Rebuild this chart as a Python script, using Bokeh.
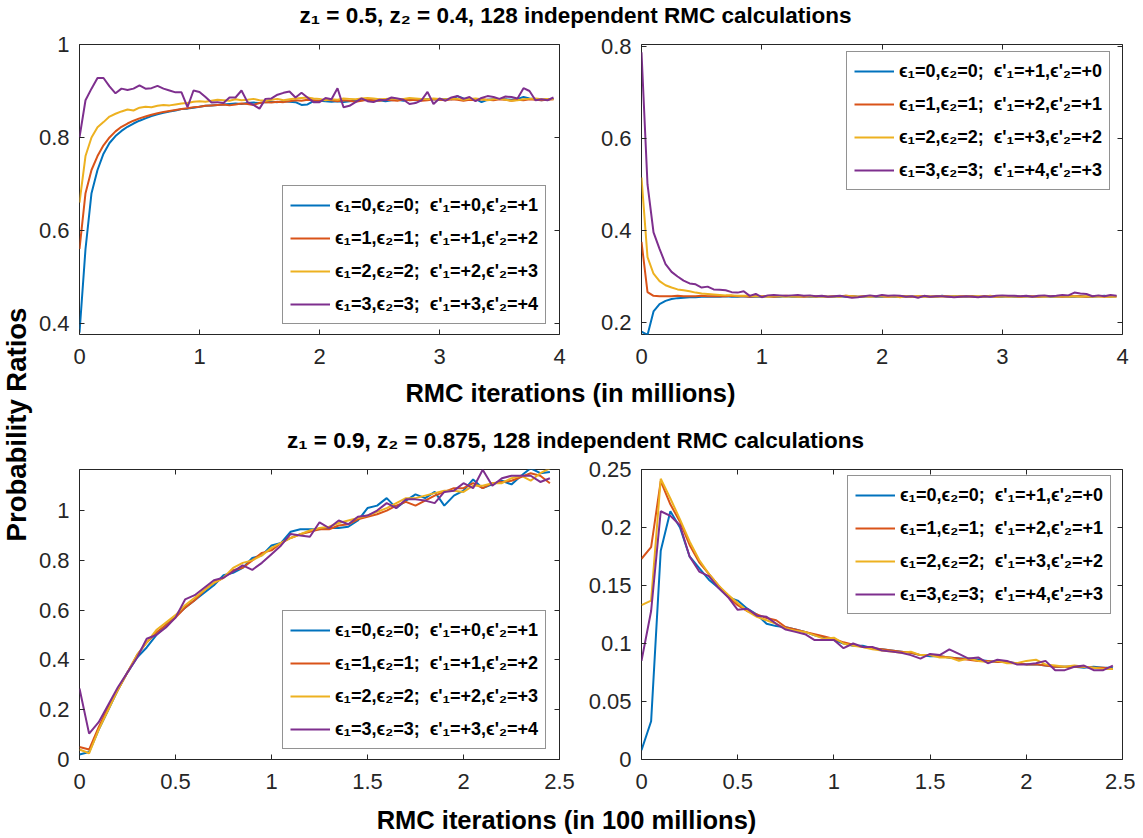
import math
from bokeh.plotting import figure
from bokeh.models import (Range1d, FixedTicker, LinearAxis, Legend, LegendItem, Label,
                          CustomJSTickFormatter)
from bokeh.layouts import row, column
from bokeh.embed import file_html
from bokeh.resources import INLINE

# ---------------- data ----------------
x_top = [0.00, 0.05, 0.10, 0.15, 0.20, 0.25, 0.30, 0.35, 0.40, 0.45,
         0.50, 0.55, 0.60, 0.65, 0.70, 0.75, 0.80, 0.85, 0.90, 0.95,
         1.00, 1.05, 1.10, 1.15, 1.20, 1.25, 1.30, 1.35, 1.40, 1.45,
         1.50, 1.55, 1.60, 1.65, 1.70, 1.75, 1.80, 1.85, 1.90, 1.95,
         2.00, 2.05, 2.10, 2.15, 2.20, 2.25, 2.30, 2.35, 2.40, 2.45,
         2.50, 2.55, 2.60, 2.65, 2.70, 2.75, 2.80, 2.85, 2.90, 2.95,
         3.00, 3.05, 3.10, 3.15, 3.20, 3.25, 3.30, 3.35, 3.40, 3.45,
         3.50, 3.55, 3.60, 3.65, 3.70, 3.75, 3.80, 3.85, 3.90, 3.95]

x_bot = [0.00, 0.05, 0.10, 0.15, 0.20, 0.25, 0.30, 0.35, 0.40, 0.45,
         0.50, 0.55, 0.60, 0.65, 0.70, 0.75, 0.80, 0.85, 0.90, 0.95,
         1.00, 1.05, 1.10, 1.15, 1.20, 1.25, 1.30, 1.35, 1.40, 1.45,
         1.50, 1.55, 1.60, 1.65, 1.70, 1.75, 1.80, 1.85, 1.90, 1.95,
         2.00, 2.05, 2.10, 2.15, 2.20, 2.25, 2.30, 2.35, 2.40, 2.45]

# top-left: z1=0.5, z2=0.4, (e'1, e'2) = (+e, +e+1)
tl_e0 = [0.380, 0.560, 0.680, 0.730, 0.765, 0.788, 0.803, 0.814, 0.823, 0.830,
         0.836, 0.841, 0.846, 0.850, 0.853, 0.856, 0.858, 0.861, 0.862, 0.864,
         0.866, 0.868, 0.869, 0.870, 0.871, 0.872, 0.873, 0.872, 0.874, 0.875,
         0.874, 0.876, 0.877, 0.876, 0.878, 0.877, 0.876, 0.870, 0.871, 0.878,
         0.879, 0.878, 0.877, 0.878, 0.876, 0.878, 0.879, 0.880, 0.882, 0.879,
         0.880, 0.878, 0.880, 0.881, 0.879, 0.882, 0.880, 0.881, 0.883, 0.882,
         0.881, 0.883, 0.882, 0.889, 0.884, 0.881, 0.883, 0.876, 0.881, 0.882,
         0.883, 0.882, 0.881, 0.883, 0.887, 0.884, 0.882, 0.880, 0.882, 0.883]
tl_e1 = [0.560, 0.680, 0.730, 0.760, 0.783, 0.800, 0.813, 0.823, 0.830, 0.836,
         0.841, 0.845, 0.849, 0.852, 0.855, 0.857, 0.859, 0.861, 0.863, 0.865,
         0.866, 0.868, 0.869, 0.870, 0.871, 0.869, 0.871, 0.873, 0.872, 0.870,
         0.874, 0.876, 0.875, 0.877, 0.876, 0.878, 0.880, 0.879, 0.881, 0.880,
         0.879, 0.881, 0.880, 0.878, 0.880, 0.879, 0.877, 0.879, 0.881, 0.880,
         0.879, 0.881, 0.880, 0.879, 0.882, 0.880, 0.881, 0.879, 0.880, 0.882,
         0.881, 0.880, 0.882, 0.881, 0.879, 0.881, 0.880, 0.882, 0.881, 0.880,
         0.882, 0.881, 0.879, 0.881, 0.880, 0.882, 0.881, 0.880, 0.881, 0.882]
tl_e2 = [0.660, 0.760, 0.800, 0.822, 0.833, 0.845, 0.851, 0.856, 0.860, 0.858,
         0.864, 0.866, 0.865, 0.868, 0.870, 0.869, 0.871, 0.873, 0.874, 0.877,
         0.878, 0.877, 0.879, 0.881, 0.880, 0.879, 0.882, 0.880, 0.881, 0.883,
         0.880, 0.879, 0.881, 0.883, 0.880, 0.882, 0.884, 0.885, 0.886, 0.884,
         0.883, 0.880, 0.882, 0.881, 0.884, 0.883, 0.882, 0.884, 0.885, 0.884,
         0.882, 0.883, 0.884, 0.882, 0.883, 0.885, 0.884, 0.883, 0.882, 0.884,
         0.883, 0.882, 0.884, 0.883, 0.881, 0.883, 0.884, 0.882, 0.880, 0.882,
         0.883, 0.881, 0.879, 0.880, 0.882, 0.883, 0.884, 0.882, 0.883, 0.882]
tl_e3 = [0.800, 0.880, 0.905, 0.928, 0.928, 0.910, 0.895, 0.905, 0.902, 0.905,
         0.912, 0.905, 0.906, 0.911, 0.905, 0.901, 0.897, 0.897, 0.865, 0.901,
         0.898, 0.887, 0.875, 0.876, 0.874, 0.886, 0.886, 0.901, 0.876, 0.870,
         0.862, 0.883, 0.884, 0.892, 0.896, 0.899, 0.886, 0.896, 0.886, 0.876,
         0.876, 0.885, 0.882, 0.906, 0.865, 0.868, 0.876, 0.884, 0.878, 0.876,
         0.881, 0.880, 0.886, 0.884, 0.881, 0.872, 0.874, 0.880, 0.898, 0.872,
         0.884, 0.879, 0.886, 0.889, 0.883, 0.887, 0.878, 0.885, 0.889, 0.887,
         0.883, 0.888, 0.887, 0.884, 0.906, 0.900, 0.880, 0.882, 0.880, 0.886]

# top-right: z1=0.5, z2=0.4, (e'1, e'2) = (+e+1, +e)
tr_e0 = [0.180, 0.173, 0.224, 0.240, 0.247, 0.251, 0.253, 0.254, 0.255, 0.255,
         0.256, 0.256, 0.256, 0.256, 0.257, 0.256, 0.256, 0.257, 0.256, 0.256,
         0.256, 0.257, 0.256, 0.256, 0.257, 0.256, 0.256, 0.257, 0.256, 0.256,
         0.257, 0.256, 0.256, 0.257, 0.256, 0.257, 0.256, 0.256, 0.257, 0.256,
         0.256, 0.257, 0.256, 0.256, 0.257, 0.256, 0.256, 0.257, 0.256, 0.256,
         0.258, 0.256, 0.257, 0.256, 0.256, 0.257, 0.256, 0.256, 0.257, 0.256,
         0.256, 0.257, 0.256, 0.256, 0.257, 0.256, 0.256, 0.257, 0.256, 0.256,
         0.257, 0.256, 0.256, 0.257, 0.256, 0.256, 0.257, 0.258, 0.256, 0.257]
tr_e1 = [0.375, 0.266, 0.258, 0.257, 0.257, 0.257, 0.258, 0.257, 0.257, 0.257,
         0.258, 0.257, 0.257, 0.257, 0.257, 0.258, 0.257, 0.257, 0.256, 0.257,
         0.257, 0.257, 0.256, 0.257, 0.258, 0.257, 0.257, 0.256, 0.257, 0.257,
         0.257, 0.256, 0.257, 0.257, 0.258, 0.257, 0.256, 0.257, 0.257, 0.257,
         0.257, 0.256, 0.257, 0.257, 0.257, 0.256, 0.257, 0.257, 0.256, 0.257,
         0.257, 0.257, 0.256, 0.257, 0.257, 0.257, 0.256, 0.257, 0.257, 0.256,
         0.257, 0.257, 0.257, 0.256, 0.257, 0.257, 0.256, 0.257, 0.257, 0.257,
         0.256, 0.257, 0.257, 0.257, 0.256, 0.257, 0.257, 0.256, 0.257, 0.257]
tr_e2 = [0.515, 0.342, 0.306, 0.290, 0.281, 0.276, 0.272, 0.270, 0.268, 0.265,
         0.263, 0.262, 0.261, 0.260, 0.259, 0.259, 0.258, 0.258, 0.258, 0.257,
         0.257, 0.256, 0.257, 0.257, 0.256, 0.257, 0.256, 0.257, 0.257, 0.256,
         0.257, 0.256, 0.257, 0.256, 0.258, 0.257, 0.256, 0.257, 0.256, 0.257,
         0.257, 0.256, 0.257, 0.255, 0.257, 0.256, 0.257, 0.256, 0.257, 0.256,
         0.257, 0.256, 0.257, 0.256, 0.257, 0.256, 0.257, 0.256, 0.258, 0.256,
         0.257, 0.256, 0.257, 0.256, 0.257, 0.256, 0.257, 0.256, 0.257, 0.256,
         0.257, 0.256, 0.257, 0.256, 0.257, 0.256, 0.257, 0.256, 0.256, 0.256]
tr_e3 = [0.787, 0.500, 0.396, 0.360, 0.327, 0.310, 0.300, 0.291, 0.285, 0.283,
         0.276, 0.278, 0.272, 0.271, 0.270, 0.266, 0.265, 0.268, 0.258, 0.262,
         0.255, 0.259, 0.260, 0.259, 0.258, 0.259, 0.260, 0.258, 0.259, 0.257,
         0.258, 0.256, 0.257, 0.258, 0.256, 0.254, 0.255, 0.257, 0.259, 0.257,
         0.260, 0.258, 0.259, 0.258, 0.256, 0.257, 0.254, 0.258, 0.256, 0.257,
         0.257, 0.256, 0.255, 0.256, 0.257, 0.256, 0.255, 0.257, 0.256, 0.258,
         0.259, 0.258, 0.258, 0.257, 0.258, 0.256, 0.258, 0.259, 0.257, 0.258,
         0.260, 0.259, 0.265, 0.263, 0.262, 0.257, 0.259, 0.257, 0.260, 0.258]

# bottom-left: z1=0.9, z2=0.875, (e'1, e'2) = (+e, +e+1)
bl_e0 = [0.020, 0.030, 0.120, 0.200, 0.280, 0.350, 0.410, 0.450, 0.500, 0.540,
         0.575, 0.610, 0.640, 0.670, 0.700, 0.740, 0.750, 0.770, 0.810, 0.820,
         0.860, 0.870, 0.915, 0.925, 0.925, 0.925, 0.930, 0.930, 0.935, 0.960,
         1.010, 1.020, 1.050, 1.010, 1.040, 1.065, 1.050, 1.075, 1.020, 1.060,
         1.080, 1.125, 1.090, 1.105, 1.120, 1.105, 1.140, 1.170, 1.150, 1.155]
bl_e1 = [0.050, 0.040, 0.130, 0.210, 0.280, 0.350, 0.420, 0.470, 0.510, 0.540,
         0.570, 0.610, 0.640, 0.680, 0.710, 0.730, 0.760, 0.770, 0.800, 0.830,
         0.840, 0.870, 0.890, 0.905, 0.915, 0.925, 0.925, 0.940, 0.945, 0.965,
         0.975, 0.985, 1.000, 1.020, 1.035, 1.020, 1.040, 1.060, 1.075, 1.090,
         1.090, 1.110, 1.090, 1.110, 1.115, 1.120, 1.135, 1.150, 1.140, 1.110]
bl_e2 = [0.040, 0.025, 0.120, 0.200, 0.280, 0.350, 0.420, 0.470, 0.520, 0.550,
         0.580, 0.620, 0.650, 0.680, 0.710, 0.730, 0.770, 0.790, 0.800, 0.820,
         0.850, 0.870, 0.890, 0.905, 0.920, 0.930, 0.935, 0.950, 0.960, 0.970,
         0.980, 0.995, 1.010, 1.030, 1.050, 1.050, 1.060, 1.070, 1.080, 1.080,
         1.075, 1.100, 1.100, 1.110, 1.110, 1.130, 1.140, 1.120, 1.150, 1.170]
bl_e3 = [0.285, 0.104, 0.150, 0.220, 0.290, 0.350, 0.410, 0.485, 0.500, 0.530,
         0.570, 0.643, 0.660, 0.690, 0.720, 0.730, 0.755, 0.780, 0.762, 0.790,
         0.825, 0.860, 0.906, 0.900, 0.895, 0.953, 0.930, 0.960, 0.945, 0.975,
         0.980, 1.000, 1.030, 1.010, 1.045, 1.045, 1.040, 1.030, 1.075, 1.080,
         1.110, 1.090, 1.164, 1.100, 1.130, 1.140, 1.140, 1.140, 1.115, 1.130]

# bottom-right: z1=0.9, z2=0.875, (e'1, e'2) = (+e+1, +e)
br_e0 = [0.008, 0.033, 0.180, 0.214, 0.200, 0.175, 0.165, 0.155, 0.148, 0.140,
         0.137, 0.130, 0.125, 0.117, 0.115, 0.114, 0.112, 0.110, 0.107, 0.105,
         0.103, 0.100, 0.098, 0.098, 0.096, 0.095, 0.094, 0.093, 0.092, 0.090,
         0.089, 0.089, 0.088, 0.087, 0.087, 0.086, 0.085, 0.084, 0.084, 0.083,
         0.082, 0.082, 0.081, 0.080, 0.080, 0.080, 0.079, 0.080, 0.079, 0.079]
br_e1 = [0.173, 0.183, 0.240, 0.220, 0.205, 0.185, 0.170, 0.160, 0.150, 0.140,
         0.133, 0.128, 0.125, 0.122, 0.120, 0.114, 0.112, 0.110, 0.108, 0.106,
         0.104, 0.101, 0.099, 0.097, 0.096, 0.095, 0.094, 0.093, 0.092, 0.090,
         0.090, 0.089, 0.088, 0.087, 0.086, 0.085, 0.085, 0.084, 0.084, 0.083,
         0.082, 0.082, 0.081, 0.080, 0.080, 0.080, 0.080, 0.079, 0.079, 0.078]
br_e2 = [0.133, 0.137, 0.242, 0.225, 0.207, 0.188, 0.172, 0.160, 0.150, 0.142,
         0.135, 0.128, 0.123, 0.120, 0.117, 0.113, 0.111, 0.110, 0.107, 0.104,
         0.105, 0.100, 0.098, 0.097, 0.095, 0.094, 0.093, 0.092, 0.093, 0.090,
         0.090, 0.088, 0.088, 0.085, 0.087, 0.085, 0.084, 0.085, 0.083, 0.083,
         0.085, 0.086, 0.082, 0.081, 0.080, 0.081, 0.080, 0.079, 0.078, 0.078]
br_e3 = [0.085, 0.128, 0.214, 0.210, 0.202, 0.175, 0.162, 0.158, 0.148, 0.140,
         0.129, 0.130, 0.124, 0.123, 0.117, 0.112, 0.110, 0.108, 0.103, 0.103,
         0.103, 0.096, 0.100, 0.097, 0.097, 0.094, 0.093, 0.092, 0.090, 0.087,
         0.091, 0.090, 0.095, 0.091, 0.087, 0.088, 0.083, 0.086, 0.085, 0.082,
         0.082, 0.083, 0.085, 0.077, 0.077, 0.080, 0.081, 0.077, 0.077, 0.081]

labels_left = ["ϵ₁=0,ϵ₂=0;  ϵ'₁=+0,ϵ'₂=+1",
               "ϵ₁=1,ϵ₂=1;  ϵ'₁=+1,ϵ'₂=+2",
               "ϵ₁=2,ϵ₂=2;  ϵ'₁=+2,ϵ'₂=+3",
               "ϵ₁=3,ϵ₂=3;  ϵ'₁=+3,ϵ'₂=+4"]
labels_right = ["ϵ₁=0,ϵ₂=0;  ϵ'₁=+1,ϵ'₂=+0",
                "ϵ₁=1,ϵ₂=1;  ϵ'₁=+2,ϵ'₂=+1",
                "ϵ₁=2,ϵ₂=2;  ϵ'₁=+3,ϵ'₂=+2",
                "ϵ₁=3,ϵ₂=3;  ϵ'₁=+4,ϵ'₂=+3"]

title_top = "z₁ = 0.5, z₂ = 0.4, 128 independent RMC calculations"
title_bot = "z₁ = 0.9, z₂ = 0.875, 128 independent RMC calculations"
xlabel_top = "RMC iterations (in millions)"
xlabel_bot = "RMC iterations (in 100 millions)"
ylabel = "Probability Ratios"

xticks_top = [0, 1, 2, 3, 4]
xtick_labels_top = ["0", "1", "2", "3", "4"]
xticks_bot = [0, 0.5, 1, 1.5, 2, 2.5]
xtick_labels_bot = ["0", "0.5", "1", "1.5", "2", "2.5"]
yticks_tl = [0.4, 0.6, 0.8, 1.0]
ytick_labels_tl = ["0.4", "0.6", "0.8", "1"]
yticks_tr = [0.2, 0.4, 0.6, 0.8]
ytick_labels_tr = ["0.2", "0.4", "0.6", "0.8"]
yticks_bl = [0, 0.2, 0.4, 0.6, 0.8, 1.0]
ytick_labels_bl = ["0", "0.2", "0.4", "0.6", "0.8", "1"]
yticks_br = [0, 0.05, 0.1, 0.15, 0.2, 0.25]
ytick_labels_br = ["0", "0.05", "0.1", "0.15", "0.2", "0.25"]

COLORS = ["#0072BD", "#D95319", "#EDB120", "#7E2F8E"]
AX = "#262626"
FONT = "Liberation Sans"

# ---------------- helpers ----------------
def fmt(ticks, labels):
    return CustomJSTickFormatter(args=dict(tvals=list(ticks), tlabs=list(labels)),
                                 code="const i = tvals.findIndex(t => Math.abs(t - tick) < 1e-9);"
                                      "return i >= 0 ? tlabs[i] : '';")


BLANK = CustomJSTickFormatter(code="return '';")


def strip(w, h):
    s = figure(width=w, height=h, x_range=Range1d(0, w), y_range=Range1d(h, 0),
               min_border=0, toolbar_location=None, output_backend="svg",
               x_axis_type=None, y_axis_type=None)
    s.outline_line_color = None
    s.grid.visible = False
    return s


def add_text(s, x, y, text, size, angle=0.0):
    s.add_layout(Label(x=x, y=y, text=text, text_font=FONT, text_font_size=size,
                       text_font_style="bold", text_color="black", text_align="center",
                       text_baseline="alphabetic", angle=angle))


def style_axis(ax):
    ax.axis_line_color = None
    ax.major_tick_in = 5
    ax.major_tick_out = 0
    ax.major_tick_line_color = AX
    ax.minor_tick_line_color = None


def panel(width, height, bl, br, bt, bb, xr, yr, xt, xtl, yt, ytl, xs, ys_list, labels, loc):
    p = figure(width=width, height=height, x_range=Range1d(*xr), y_range=Range1d(*yr),
               min_border_left=bl, min_border_right=br, min_border_top=bt, min_border_bottom=bb,
               toolbar_location=None, output_backend="svg")
    p.grid.visible = False
    p.outline_line_color = AX
    p.outline_line_width = 1
    p.background_fill_color = "white"
    p.border_fill_color = "white"
    xa = p.below[0]
    ya = p.left[0]
    xa.ticker = FixedTicker(ticks=xt)
    ya.ticker = FixedTicker(ticks=yt)
    xa.formatter = fmt(xt, xtl)
    ya.formatter = fmt(yt, ytl)
    xa.major_label_standoff = 14
    ya.major_label_standoff = 10
    for ax in (xa, ya):
        style_axis(ax)
        ax.major_label_text_font = FONT
        ax.major_label_text_font_size = "22px"
        ax.major_label_text_color = AX
    top = LinearAxis(ticker=FixedTicker(ticks=xt), formatter=BLANK)
    right = LinearAxis(ticker=FixedTicker(ticks=yt), formatter=BLANK)
    for ax in (top, right):
        style_axis(ax)
        ax.major_label_standoff = 0
        ax.major_label_text_font_size = "2px"
        ax.major_label_text_color = None
    p.add_layout(top, "above")
    p.add_layout(right, "right")
    items = []
    for ys, c, lab in zip(ys_list, COLORS, labels):
        r = p.line(xs, ys, line_color=c, line_width=2)
        items.append(LegendItem(label=lab, renderers=[r]))
    leg = Legend(items=items, location=loc, border_line_color=AX, border_line_width=1,
                 background_fill_color="white", background_fill_alpha=1.0,
                 label_text_font=FONT, label_text_font_style="bold", label_text_font_size="18px",
                 label_text_color="black", glyph_width=40, glyph_height=20, label_height=24,
                 label_standoff=5, spacing=9, padding=7, margin=0)
    p.add_layout(leg)
    return p


# ---------------- layout (page origin at top-left) ----------------
YL_W = 34                    # y-label strip  x: 0..34
LW, RW = 541, 560            # left canvases x: 34..575, right: 575..1135
TITLE_H, TOP_BT = 29, 15     # title strip 0..29, top frames start at 44
TOP_H = TOP_BT + 290 + 46    # top panels 29..380
MID_H, BOT_BT = 75, 14       # mid strip 380..455, bottom frames start at 469
BOT_H = BOT_BT + 290 + 46    # bottom panels 455..805
XB_H = 31                    # bottom x-label strip 805..836
LB = 79 - YL_W               # left border of left panels

tl = panel(LW, TOP_H, LB, LW - LB - 480, TOP_BT, 46, (0, 4), (0.376, 1.0),
           xticks_top, xtick_labels_top, yticks_tl, ytick_labels_tl,
           x_top, [tl_e0, tl_e1, tl_e2, tl_e3], labels_left, (203, 10))
tr = panel(RW, TOP_H, 66, RW - 66 - 481, TOP_BT, 46, (0, 4), (0.174, 0.804),
           xticks_top, xtick_labels_top, yticks_tr, ytick_labels_tr,
           x_top, [tr_e0, tr_e1, tr_e2, tr_e3], labels_right, (205, 144))
bl = panel(LW, BOT_H, LB, LW - LB - 480, BOT_BT, 46, (0, 2.5), (0.0, 1.165),
           xticks_bot, xtick_labels_bot, yticks_bl, ytick_labels_bl,
           x_bot, [bl_e0, bl_e1, bl_e2, bl_e3], labels_left, (203, 10))
br = panel(RW, BOT_H, 66, RW - 66 - 481, BOT_BT, 46, (0, 2.5), (0.0, 0.25),
           xticks_bot, xtick_labels_bot, yticks_br, ytick_labels_br,
           x_bot, [br_e0, br_e1, br_e2, br_e3], labels_right, (206, 145))

W = LW + RW
t1 = strip(W, TITLE_H)
add_text(t1, 575 - YL_W, 15, title_top, "22.5px")
mid = strip(W, MID_H)
add_text(mid, 570 - YL_W, 12, xlabel_top, "25.5px")
add_text(mid, 575 - YL_W, 60, title_bot, "22.5px")
xb = strip(W, XB_H)
add_text(xb, 566 - YL_W, 14, xlabel_bot, "25.5px")

H = TITLE_H + TOP_H + MID_H + BOT_H + XB_H
yl = strip(YL_W, H)
add_text(yl, 16.1, 424, ylabel, "27.5px", angle=math.pi / 2)

layout = row(yl, column(t1, row(tl, tr), mid, row(bl, br), xb))

open("out.html", "w").write(file_html(layout, INLINE))
